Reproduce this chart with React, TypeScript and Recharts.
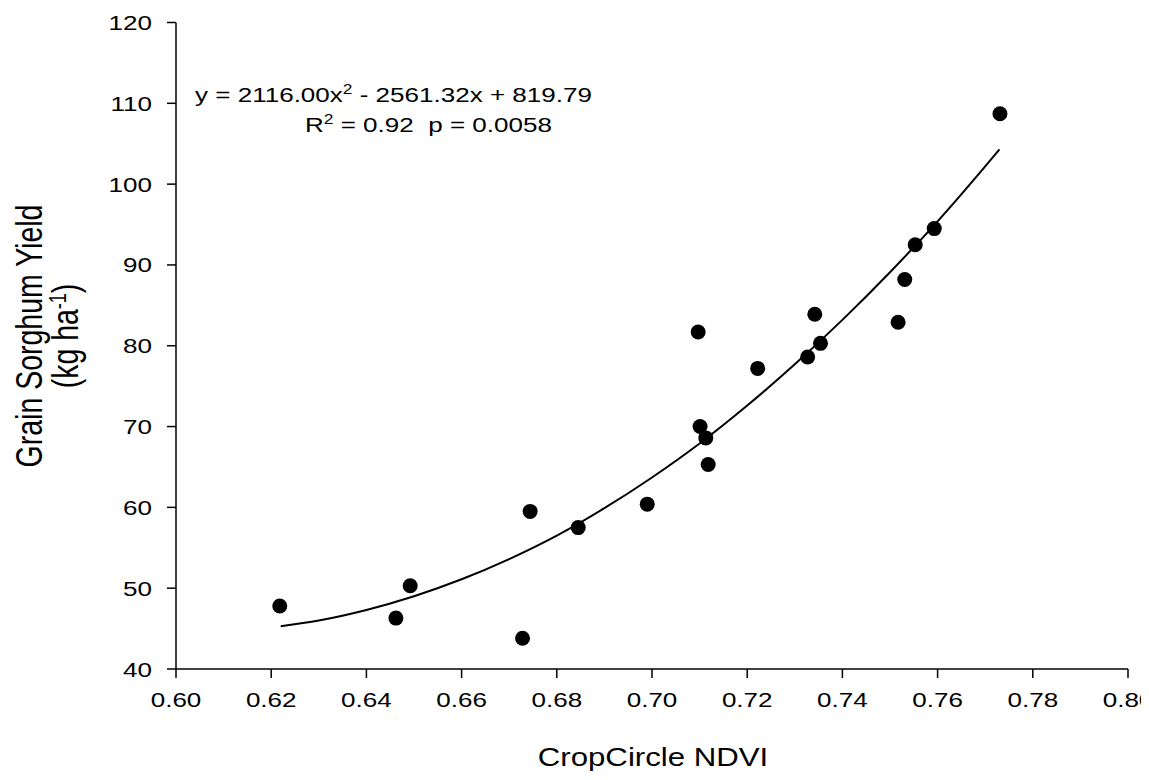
import { ComposedChart, Line, Scatter, XAxis, YAxis } from 'recharts'

// observed plots: CropCircle NDVI vs grain sorghum yield
const ndvi = [
  0.6218, 0.6462, 0.6492, 0.6728, 0.6744, 0.6845, 0.699, 0.7097, 0.7101, 0.7113,
  0.7118, 0.7222, 0.7327, 0.7342, 0.7354, 0.7517, 0.7531, 0.7553, 0.7593, 0.7731,
]
const yieldKg = [
  47.8, 46.3, 50.3, 43.8, 59.5, 57.5, 60.4, 81.7, 70.0, 68.6,
  65.3, 77.2, 78.6, 83.9, 80.3, 82.9, 88.2, 92.5, 94.5, 108.7,
]

// fitted curve
const fitX = [0.622, 0.63, 0.64, 0.65, 0.66, 0.67, 0.68, 0.69, 0.7, 0.71, 0.72, 0.73, 0.74, 0.75, 0.76, 0.77, 0.773]
const fitY = [45.3, 46.0, 47.3, 49.0, 51.1, 53.6, 56.5, 59.9, 63.7, 67.9, 72.6, 77.7, 83.2, 89.1, 95.4, 102.2, 104.3]

const xTicks = [0.6, 0.62, 0.64, 0.66, 0.68, 0.7, 0.72, 0.74, 0.76, 0.78, 0.8]
const yTicks = [40, 50, 60, 70, 80, 90, 100, 110, 120]

const puntos = ndvi.map((x, i) => ({ x, y: yieldKg[i] }))
const curva = fitX.map((x, i) => ({ x, y: fitY[i] }))

const FONT = '"Liberation Sans", Arial, sans-serif'
const STRETCH = 1.24
const ejeStyle = { stroke: '#000', strokeWidth: 1.5 }

function XTick(props: any) {
  const { x, y, payload } = props
  return (
    <g transform={`translate(${x},${y + 29}) scale(${STRETCH},1)`}>
      <text x={0} y={0} textAnchor="middle" fontSize={21} fontFamily={FONT} fill="#000">
        {Number(payload.value).toFixed(2)}
      </text>
    </g>
  )
}

function YTick(props: any) {
  const { x, y, payload } = props
  return (
    <g transform={`translate(${x - 15},${y + 7.5}) scale(${STRETCH},1)`}>
      <text x={0} y={0} textAnchor="end" fontSize={21} fontFamily={FONT} fill="#000">
        {payload.value}
      </text>
    </g>
  )
}

function Punto(props: any) {
  return <circle cx={props.cx} cy={props.cy} r={7.5} fill="#000" />
}

export default function App() {
  return (
    <div style={{ position: 'relative', width: 1141, height: 772 }}>
      <ComposedChart width={1141} height={772} margin={{ top: 14.5, right: 21, left: 0, bottom: 0 }}>
        <XAxis
          dataKey="x"
          type="number"
          domain={[0.6, 0.8]}
          ticks={xTicks}
          tick={<XTick />}
          tickSize={9}
          tickMargin={0}
          height={111}
          axisLine={ejeStyle}
          tickLine={ejeStyle}
          allowDataOverflow
        />
        <XAxis
          xAxisId="top"
          orientation="top"
          type="number"
          domain={[0.6, 0.8]}
          height={0}
          tick={false}
          tickLine={false}
          axisLine={ejeStyle}
        />
        <YAxis
          dataKey="y"
          type="number"
          domain={[40, 120]}
          ticks={yTicks}
          tick={<YTick />}
          tickSize={9}
          tickMargin={0}
          width={168}
          axisLine={ejeStyle}
          tickLine={ejeStyle}
          allowDataOverflow
        />
        <YAxis
          yAxisId="right"
          orientation="right"
          type="number"
          domain={[40, 120]}
          width={0}
          tick={false}
          tickLine={false}
          axisLine={ejeStyle}
        />
        <Line
          data={curva}
          dataKey="y"
          type="monotone"
          stroke="#000"
          strokeWidth={2}
          dot={false}
          activeDot={false}
          isAnimationActive={false}
        />
        <Scatter data={puntos} dataKey="y" shape={<Punto />} isAnimationActive={false} />
      </ComposedChart>
      <svg
        width={1141}
        height={772}
        style={{ position: 'absolute', left: 0, top: 0, pointerEvents: 'none' }}
        fontFamily={FONT}
        fill="#000"
      >
        <g transform={`translate(187,93.7) scale(${STRETCH},1)`}>
          <text x={0} y={0} fontSize={21}>
            y = 2116.00x
            <tspan dy={-8} fontSize={14}>2</tspan>
            <tspan dy={8}> - 2561.32x + 819.79</tspan>
          </text>
        </g>
        <g transform={`translate(297,123.7) scale(${STRETCH},1)`}>
          <text x={0} y={0} fontSize={21}>
            R<tspan dy={-8} fontSize={14}>2</tspan>
            <tspan dy={8}>{' = 0.92\u00a0\u00a0p = 0.0058'}</tspan>
          </text>
        </g>
        <g transform={`translate(645,758) scale(1.2,1)`}>
          <text x={0} y={0} fontSize={26} textAnchor="middle">
            CropCircle NDVI
          </text>
        </g>
        <g transform={`translate(21,328) scale(1.28,1) rotate(-90)`}>
          <text x={0} y={0} dy="0.35em" fontSize={28.5} textAnchor="middle">
            Grain Sorghum Yield
          </text>
        </g>
        <g transform={`translate(57,328) scale(1.28,1) rotate(-90)`}>
          <text x={0} y={0} dy="0.35em" fontSize={28.5} textAnchor="middle">
            (kg ha<tspan dy={-9} fontSize={18}>-1</tspan>
            <tspan dy={9}>)</tspan>
          </text>
        </g>
      </svg>
    </div>
  )
}
